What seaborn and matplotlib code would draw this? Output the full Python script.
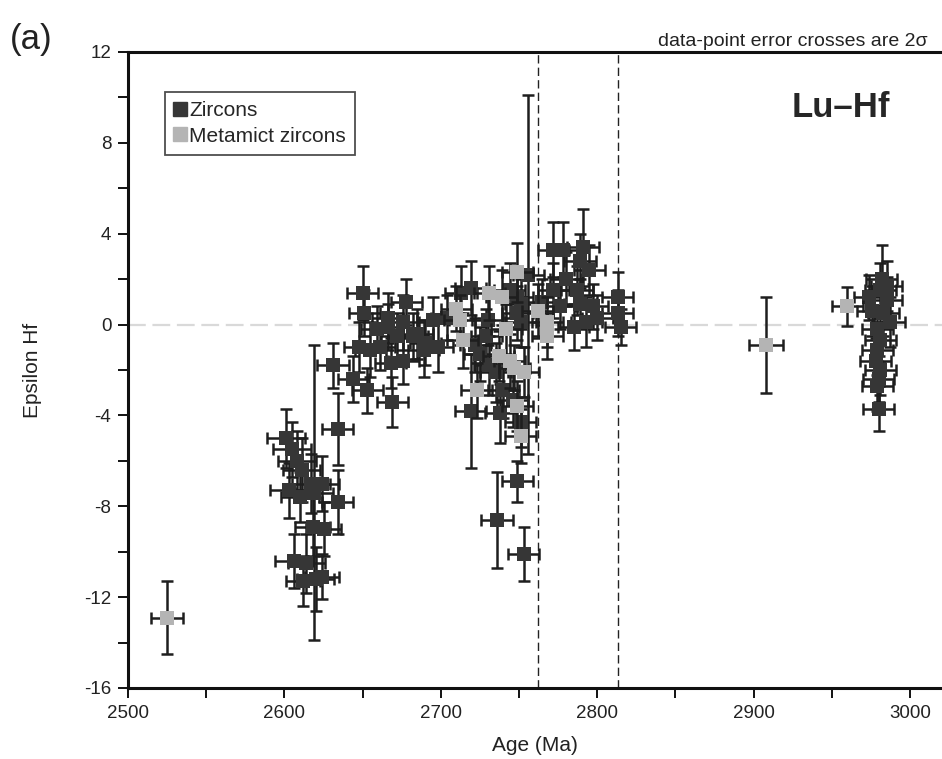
import matplotlib
matplotlib.use("Agg")
import matplotlib.pyplot as plt
from matplotlib.lines import Line2D
from matplotlib.ticker import MultipleLocator
import numpy as np
import pandas as pd
import seaborn as sns

# ---------------- data ----------------
zircon_age = [
    # 2600-2640 group
    2601, 2605, 2608, 2611, 2603, 2610, 2617, 2619, 2624, 2634, 2634, 2618, 2625,
    2606, 2614, 2620, 2612, 2624, 2631,
    # 2640-2700 group
    2650, 2678, 2651, 2666, 2659, 2672, 2685, 2666, 2676, 2648, 2661, 2655, 2682,
    2668, 2676, 2689, 2644, 2653, 2669, 2695, 2690, 2698,
    # 2700-2760 group
    2713, 2719, 2744, 2749, 2751, 2756, 2730, 2749, 2729, 2751, 2725, 2731, 2735,
    2719, 2740, 2746, 2738, 2751, 2749, 2736, 2753, 2704, 2722,
    # 2765-2815 group
    2791, 2778, 2795, 2780, 2787, 2772, 2776, 2789, 2813, 2813, 2793, 2800, 2785,
    2815, 2797, 2789, 2772, 2765,
    # ~2980 group
    2982, 2981, 2985, 2976, 2983, 2987, 2979, 2981, 2979, 2978, 2981, 2980, 2979,
    2980, 2985, 2974,
]
zircon_eps = [
    -5.0, -5.5, -6.0, -6.4, -7.3, -7.6, -7.0, -7.4, -7.0, -7.8, -4.6, -8.9, -9.0,
    -10.4, -10.5, -11.2, -11.3, -11.1, -1.8,
    1.4, 1.0, 0.5, 0.3, -0.2, -0.5, -0.4, -0.1, 0.1, -1.0, -1.0, -1.1, -0.5,
    -1.7, -1.6, -1.1, -2.4, -2.9, -3.4, 0.2, -0.8, -1.0,
    1.4, 1.6, 1.5, 1.2, 0.9, 2.2, 0.2, 0.5, -0.5, 0.1, -1.3, -1.8, -2.1,
    -3.8, -2.9, -3.3, -3.9, -4.3, -6.9, -8.6, -10.1, 0.3, -0.9,
    3.4, 3.3, 2.4, 2.0, 1.5, 1.5, 0.8, 0.9, 1.2, 0.5, 0.1, 0.3, -0.1,
    -0.1, 0.8, 2.8, 3.3, 1.0,
    2.0, 1.5, 1.1, 0.6, 0.5, 0.1, -0.2, -0.7, -1.1, -1.6, -2.0, -2.4, -2.7,
    -3.7, 1.7, 1.2,
]
zircon_age_err = [
    12, 12, 12, 12, 12, 12, 12, 12, 11, 10, 10, 11, 11,
    12, 12, 12, 11, 11, 10,
    10, 10, 10, 10, 10, 10, 10, 10, 10, 10, 10, 10, 10,
    10, 10, 10, 10, 10, 10, 10, 10, 10,
    10, 10, 10, 10, 10, 10, 10, 10, 10, 10, 10, 10, 10,
    10, 10, 10, 10, 10, 10, 10, 10, 10, 10,
    10, 10, 10, 10, 10, 10, 10, 10, 10, 10, 10, 10, 10,
    10, 10, 10, 10, 10,
    10, 10, 10, 10, 10, 10, 10, 10, 10, 10, 10, 10, 10,
    10, 10, 10,
]
zircon_eps_err = [
    1.3, 1.2, 1.3, 1.4, 1.2, 1.1, 1.3, 6.5, 1.2, 1.4, 1.6, 1.3, 1.2,
    1.2, 1.3, 1.4, 1.1, 1.0, 1.0,
    1.2, 1.0, 1.0, 1.1, 1.0, 1.0, 1.1, 1.0, 1.2, 1.1, 1.0, 1.2, 1.0,
    1.1, 1.0, 1.2, 1.0, 1.0, 1.1, 1.0, 1.0, 1.1,
    1.2, 1.2, 1.2, 1.3, 1.1, 7.9, 1.1, 1.2, 1.2, 1.1, 1.2, 1.3, 1.3,
    2.5, 1.2, 1.2, 1.3, 1.1, 0.9, 2.1, 1.2, 1.0, 1.2,
    1.7, 1.2, 1.1, 1.2, 1.1, 1.2, 1.0, 1.1, 1.1, 1.0, 1.1, 1.0, 1.0,
    0.8, 1.0, 1.2, 1.2, 1.0,
    1.5, 1.2, 1.0, 1.1, 1.0, 1.1, 1.0, 1.0, 1.1, 1.0, 1.1, 1.0, 1.1,
    1.0, 1.1, 1.0,
]

metamict_age = [2525, 2908, 2960, 2712, 2714, 2710, 2742, 2731, 2768, 2768, 2762,
                2749, 2744, 2753, 2723, 2749, 2751, 2737, 2747, 2739]
metamict_eps = [-12.9, -0.9, 0.8, 0.2, -0.7, 0.7, -0.2, 1.4, 0.1, -0.5, 0.6,
                2.3, -1.6, -2.1, -2.9, -3.6, -4.9, -1.4, -1.9, 1.2]
metamict_age_err = [10, 11, 10, 10, 10, 10, 10, 10, 10, 10, 10,
                    10, 10, 10, 10, 10, 10, 10, 10, 10]
metamict_eps_err = [1.6, 2.1, 0.85, 1.1, 1.2, 1.0, 1.1, 1.2, 1.1, 1.0, 1.2,
                    1.3, 1.2, 1.1, 1.2, 1.1, 1.2, 1.1, 1.0, 1.2]

vline_ages = [2762, 2813]
series_labels = ["Zircons", "Metamict zircons"]

# ---------------- plot ----------------
sns.set_style("ticks")
plt.rcParams["font.family"] = ["Liberation Sans", "DejaVu Sans"]
plt.rcParams["axes.unicode_minus"] = False

W, H = 942, 759
fig = plt.figure(figsize=(W / 100, H / 100), dpi=100)
ax_l, ax_r, ax_t, ax_b = 128, 942, 52, 688
ax = fig.add_axes([ax_l / W, 1 - ax_b / H, (ax_r - ax_l) / W, (ax_b - ax_t) / H])

dark = "#363636"
light = "#b4b4b4"
barc = "#1e1e1e"

df = pd.concat([
    pd.DataFrame({"age": zircon_age, "eps": zircon_eps, "xe": zircon_age_err,
                  "ye": zircon_eps_err, "type": series_labels[0]}),
    pd.DataFrame({"age": metamict_age, "eps": metamict_eps, "xe": metamict_age_err,
                  "ye": metamict_eps_err, "type": series_labels[1]}),
], ignore_index=True)

ax.axhline(0, color="#d9d9d9", lw=1.6, dashes=(8, 3), zorder=0)
for v in vline_ages:
    ax.axvline(v, color="#222222", lw=1.0, dashes=(6, 3), zorder=1)

for i, (lab, col) in enumerate(zip(series_labels, [dark, light])):
    sub = df[df["type"] == lab]
    ax.errorbar(sub["age"], sub["eps"], xerr=sub["xe"], yerr=sub["ye"], fmt="none",
                ecolor=barc, elinewidth=1.8, capsize=4.5, capthick=1.8, zorder=2 + 2 * i)
    sns.scatterplot(data=sub, x="age", y="eps", color=col, marker="s", s=115,
                    linewidth=0, ax=ax, zorder=3 + 2 * i, legend=False)

ax.set_xlim(2500, 2500 + (ax_r - ax_l) / 1.564)
ax.set_ylim(-16, 12)
ax.xaxis.set_major_locator(MultipleLocator(100))
ax.xaxis.set_minor_locator(MultipleLocator(50))
ax.yaxis.set_major_locator(MultipleLocator(4))
ax.yaxis.set_minor_locator(MultipleLocator(2))
ax.tick_params(which="both", direction="out", width=1.4, color="#111111")
ax.tick_params(which="major", length=7, labelsize=13.5, pad=5, labelcolor="#222222")
ax.tick_params(which="minor", length=7)
for s in ["left", "bottom", "top"]:
    ax.spines[s].set_linewidth(2.2)
    ax.spines[s].set_color("#111111")
ax.spines["right"].set_visible(False)

ax.set_xlabel("Age (Ma)", fontsize=15, color="#222222", labelpad=10)
ax.set_ylabel("Epsilon Hf", fontsize=15, color="#222222", labelpad=30)

handles = [Line2D([], [], marker="s", color=dark, lw=0, markersize=10),
           Line2D([], [], marker="s", color=light, lw=0, markersize=10)]
leg = ax.legend(handles, series_labels, loc="upper left",
                bbox_to_anchor=((165 - ax_l) / (ax_r - ax_l), (ax_b - 92) / (ax_b - ax_t)),
                fontsize=15, frameon=True, fancybox=False, handlelength=0.55,
                handletextpad=0.15, borderpad=0.45, labelspacing=0.3, borderaxespad=0)
leg.get_frame().set_edgecolor("#222222")
leg.get_frame().set_linewidth(1.3)

fig.text(10 / W, 1 - 40 / H, "(a)", fontsize=25, va="center", ha="left", color="#222222")
fig.text(928 / W, 1 - 41 / H, "data-point error crosses are 2\u03c3", fontsize=14,
         va="center", ha="right", color="#222222")
ax.text((841 - ax_l) / (ax_r - ax_l), (ax_b - 108) / (ax_b - ax_t), "Lu\u2013Hf",
        transform=ax.transAxes, fontsize=25, fontweight="bold", ha="center", va="center")

fig.savefig("out.png", dpi=100)
